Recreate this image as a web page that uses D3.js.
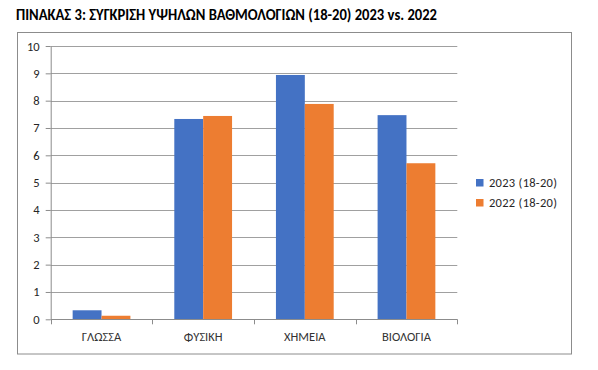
<!DOCTYPE html>
<html><head><meta charset="utf-8">
<script src="https://cdn.jsdelivr.net/npm/d3@7"></script>
<style>
html,body{margin:0;padding:0;background:#fff;}
text{font-family:Carlito,"Open Sans","Noto Sans",sans-serif;}
</style></head>
<body><svg id="c" width="598" height="370"></svg>
<script>
const title = "ΠΙΝΑΚΑΣ 3: ΣΥΓΚΡΙΣΗ ΥΨΗΛΩΝ ΒΑΘΜΟΛΟΓΙΩΝ (18-20) 2023 vs. 2022";
const categories = ["ΓΛΩΣΣΑ","ΦΥΣΙΚΗ","ΧΗΜΕΙΑ","ΒΙΟΛΟΓΙΑ"];
const seriesNames = ["2023 (18-20)","2022 (18-20)"];
const values2023 = [0.33, 7.33, 8.94, 7.47];
const values2022 = [0.13, 7.44, 7.88, 5.71];
const yTicks = [0,1,2,3,4,5,6,7,8,9,10];
const colors = ["#4472C4","#ED7D31"];

const seriesValues = [values2023, values2022];
const svg = d3.select("#c");
const L = 50.7, R = 457.3, T = 46, B = 319.3;

svg.append("rect").attr("x",17.5).attr("y",32.5).attr("width",554).attr("height",321.5)
  .attr("fill","none").attr("stroke","#8c8c8c").attr("stroke-width",1);

svg.append("text").attr("x",16).attr("y",20).attr("font-weight","bold").attr("font-size",16.5)
  .attr("fill","#000").attr("textLength",421).attr("lengthAdjust","spacingAndGlyphs").text(title);

const y = d3.scaleLinear().domain([0,10]).range([B,T]);
const x0 = d3.scaleBand().domain(categories).range([L,R]).padding(0);
const x1 = d3.scaleBand().domain(seriesNames).range([0,x0.bandwidth()]).paddingInner(0).paddingOuter(0.76);

// gridlines
svg.append("g").selectAll("line").data(yTicks.filter(d=>d>0)).join("line")
  .attr("x1",L).attr("x2",R).attr("y1",d=>Math.round(y(d))+0.5).attr("y2",d=>Math.round(y(d))+0.5)
  .attr("stroke","#a0a0a0").attr("stroke-width",1);

// bars
categories.forEach((c,i)=>{
  seriesNames.forEach((s,j)=>{
    svg.append("rect").attr("x",x0(c)+x1(s)).attr("width",x1.bandwidth())
      .attr("y",y(seriesValues[j][i])).attr("height",y(0)-y(seriesValues[j][i]))
      .attr("fill",colors[j]);
  });
});

// y axis
const ya = svg.append("g").attr("transform",`translate(${L},0)`)
  .call(d3.axisLeft(y).tickValues(yTicks).tickSize(5).tickSizeOuter(0).tickPadding(6));
ya.select(".domain").attr("stroke","#8c8c8c");
ya.selectAll(".tick line").attr("stroke","#8c8c8c");
ya.selectAll(".tick text").attr("font-size",12.5).attr("fill","#262626").style("font-family","Carlito,'Open Sans',sans-serif");

// x axis
svg.append("line").attr("x1",L).attr("x2",R).attr("y1",Math.round(B)+0.5).attr("y2",Math.round(B)+0.5).attr("stroke","#8c8c8c");
const bounds = categories.map(c=>x0(c)).concat([x0.range()[1]]);
svg.append("g").selectAll("line").data(bounds).join("line")
  .attr("x1",d=>Math.round(d)+0.5).attr("x2",d=>Math.round(d)+0.5)
  .attr("y1",B).attr("y2",B+5).attr("stroke","#8c8c8c");
svg.append("g").selectAll("text").data(categories).join("text")
  .attr("x",d=>x0(d)+x0.bandwidth()/2).attr("y",340.5).attr("text-anchor","middle")
  .attr("font-size",12.5).attr("fill","#333").text(d=>d);

// legend
const lg = svg.append("g");
seriesNames.forEach((s,j)=>{
  const cy = 182.5 + j*20;
  lg.append("rect").attr("x",476).attr("y",cy-3.5).attr("width",7.5).attr("height",7.5).attr("fill",colors[j]);
  lg.append("text").attr("x",489).attr("y",cy+4.5).attr("font-size",12.5).attr("fill","#262626")
    .attr("textLength",68).attr("lengthAdjust","spacing").text(s);
});
</script></body></html>
